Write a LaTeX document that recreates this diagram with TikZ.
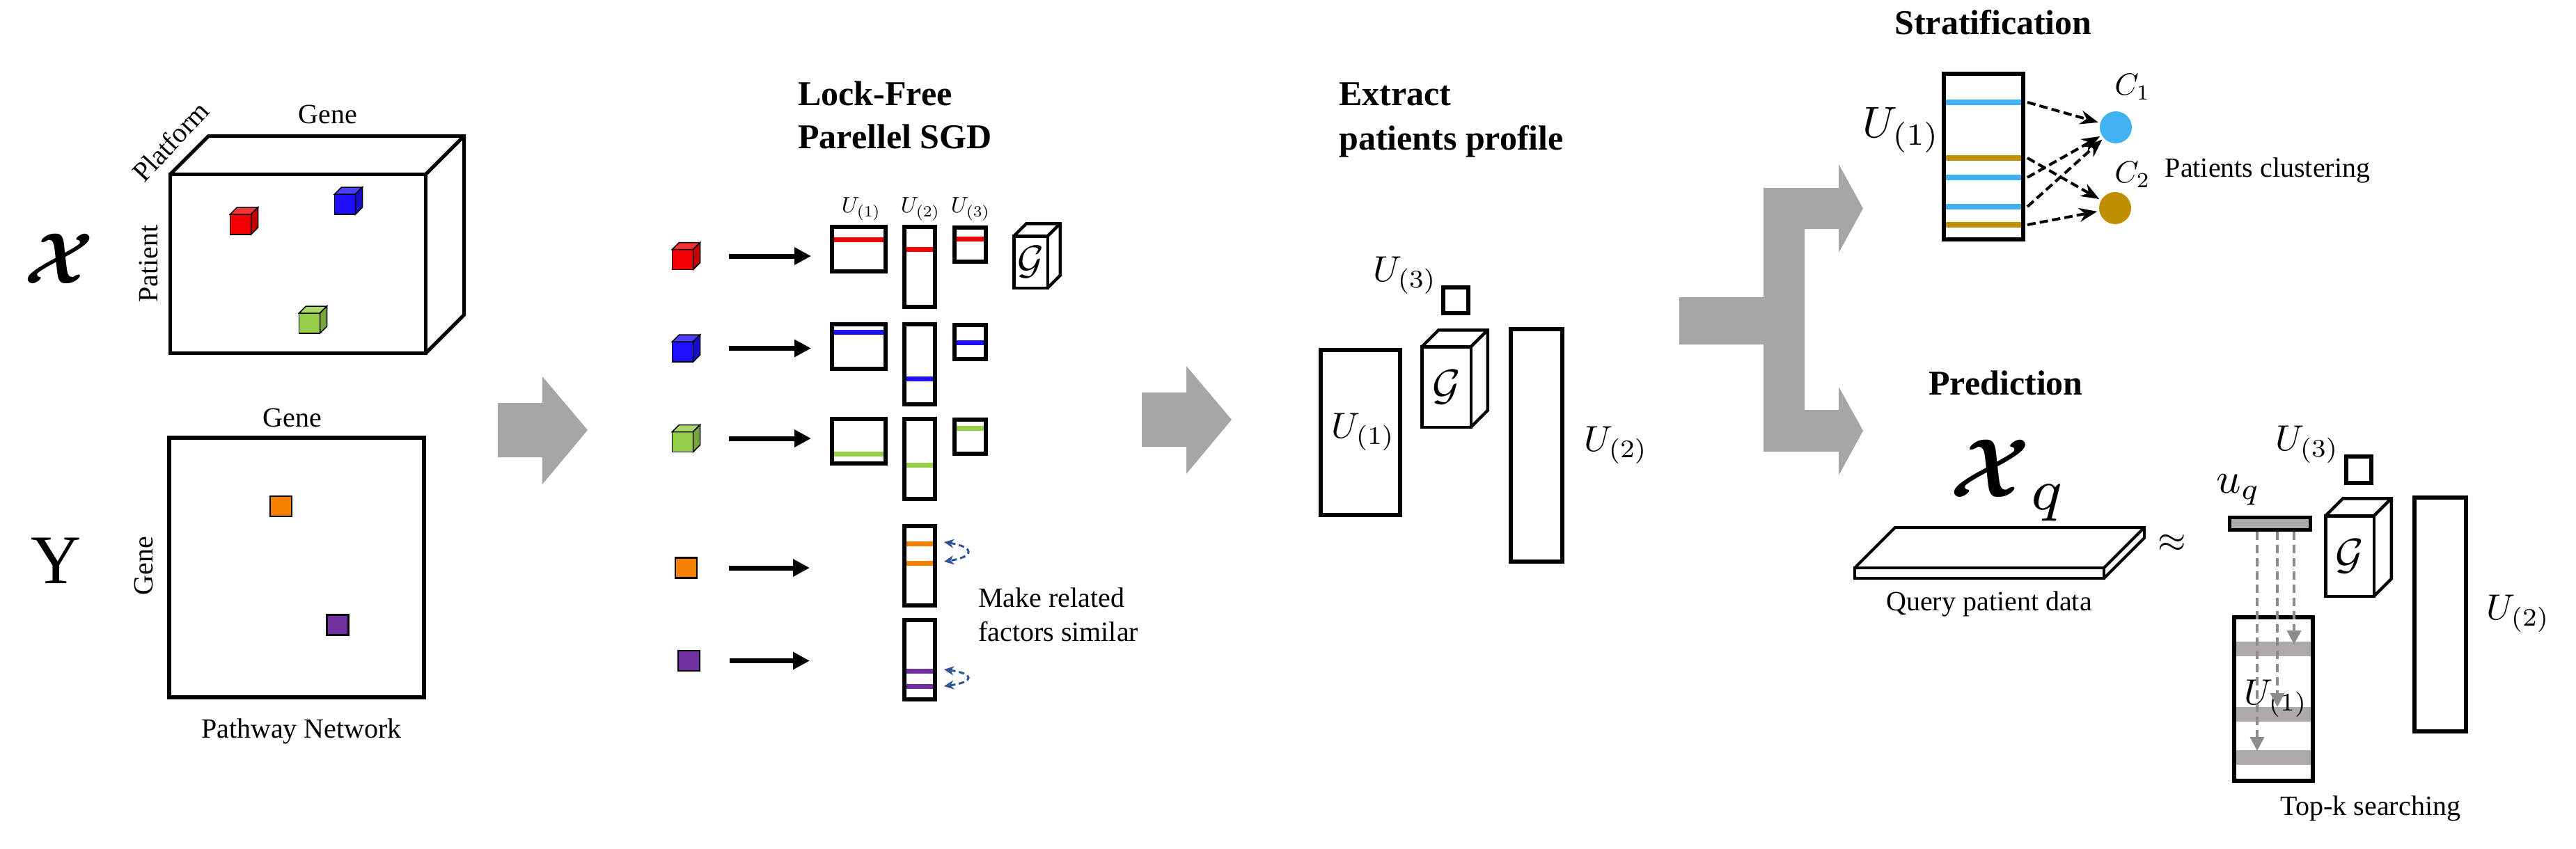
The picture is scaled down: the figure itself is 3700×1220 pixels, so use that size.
\documentclass[tikz,border=0pt]{standalone}
\usepackage{amsmath}
\usepackage{fontspec}
\usepackage{bm}
\setmainfont{Liberation Serif}
\usepackage{tikz}
\usetikzlibrary{arrows.meta}

\definecolor{cred}{RGB}{245,0,0}
\definecolor{cblue}{RGB}{30,16,255}
\definecolor{cgreen}{RGB}{150,208,72}
\definecolor{corange}{RGB}{245,128,0}
\definecolor{cpurple}{RGB}{112,48,160}
\definecolor{sblue}{RGB}{64,178,242}
\definecolor{sgold}{RGB}{191,143,0}
\definecolor{arrowgray}{RGB}{166,166,166}
\definecolor{bandgray}{RGB}{174,170,170}
\definecolor{dblue}{RGB}{47,85,151}

\begin{document}
\begin{tikzpicture}[x=1pt,y=-1pt,
    txt/.style={font=\fontsize{40}{49}\selectfont,inner sep=0pt},
    ttl/.style={font=\bfseries\fontsize{50}{61}\selectfont,inner sep=0pt},
    big/.style={font=\fontsize{#1}{#1}\selectfont,inner sep=0pt},
    lbl/.style={scale=#1/10,inner sep=0pt},
    fbox/.style={draw,line width=6pt,fill=white,inner sep=0pt},
    cubefront/.style={draw,line width=4.5pt,fill=white,inner sep=0pt,outer sep=0pt},
    minicube/.style={draw,line width=1.5pt,inner sep=0pt,outer sep=0pt,
                     minimum width=30pt,minimum height=29pt},
    minisq/.style={draw,line width=2.5pt,inner sep=0pt,minimum width=31pt,minimum height=29pt},
    fatarrow/.style={line width=7pt,-{Triangle[length=24pt,width=24pt]}},
    clusterarrow/.style={line width=4pt,dash pattern=on 12pt off 6pt,shorten >=3pt,
                         -{Stealth[length=26pt,width=20pt]}},
    searcharrow/.style={line width=4pt,draw=black!45,dash pattern=on 12pt off 7pt,
                        -{Triangle[length=20pt,width=20pt]}},
    simarrow/.style={line width=3pt,draw=dblue,dash pattern=on 8pt off 5pt,
                     {Stealth[length=14pt,width=13pt]}-{Stealth[length=14pt,width=13pt]}},
    bigarrow/.style={fill=arrowgray}]

  \useasboundingbox (0,0) rectangle (3700,1220);
  \fill[white] (0,0) rectangle (3700,1220);

  % input tensor X and pathway network Y
  \node[lbl=104] (xsym) at (85,372) {$\boldsymbol{\mathcal{X}}$};
  \node[cubefront,line width=5pt,minimum width=367pt,minimum height=257pt] (tensor) at (428,379) {};
  \node[txt] (tgene) at (471,164) {Gene};
  \node[txt,rotate=47] (tplat) at (245,203) {Platform};
  \node[txt,rotate=90] (tpat) at (213,379) {Patient};
  \node[minicube,fill=cred] (xr) at (345.5,322.5) {};
  \node[minicube,fill=cblue] (xb) at (495.5,293.5) {};
  \node[minicube,fill=cgreen] (xg) at (444.5,464.5) {};

  \node[big=100] (ysym) at (81,806) {Y};
  \node[fbox,minimum width=366pt,minimum height=373pt] (net) at (426,815.5) {};
  \node[txt] (ngene) at (420,600) {Gene};
  \node[txt,rotate=90] (ngenel) at (206,813) {Gene};
  \node[txt] (nname) at (433,1051) {Pathway Network};
  \node[minisq,fill=corange] (yo) at (403.5,727.5) {};
  \node[minisq,fill=cpurple] (yp) at (485,898) {};

  % big gray arrows
  \foreach \x/\y in {715/618,1640/603}
    \fill[bigarrow] (\x,\y) ++(0,-39) -- ++(64,0) -- ++(0,-38) -- ++(65,77)
      -- ++(-65,78) -- ++(0,-39) -- ++(-64,0) -- cycle;

  % lock-free parallel SGD
  \node[ttl,anchor=base west] (sgdt1) at (1146,152) {Lock-Free};
  \node[ttl,anchor=base west] (sgdt2) at (1146,213) {Parellel SGD};
  \node[lbl=32] (sgdu1) at (1237,300) {$U_{(1)}$};
  \node[lbl=32] (sgdu2) at (1322,300) {$U_{(2)}$};
  \node[lbl=32] (sgdu3) at (1394,300) {$U_{(3)}$};
  \foreach \rw/\ty/\cy/\cl/\la/\lb/\lc in {1/323/373/cred/21/35/20,
      2/463/505.5/cblue/14/81/29,3/599/635/cgreen/53/69/16}{
    \node[minicube,fill=\cl] (obs\rw) at (980.5,\cy) {};
    \node[fbox,minimum width=77pt,minimum height=64pt] (fa\rw) at (1233.5,{\ty+35}) {};
    \node[fbox,minimum width=44pt,minimum height=115pt] (fb\rw) at (1321,{\ty+60.5}) {};
    \node[fbox,minimum width=45pt,minimum height=49pt] (fc\rw) at (1393.5,{\ty+28}) {};
    \draw[\cl,line width=7pt] ([shift={(6,\la)}]fa\rw.north west) -- ([shift={(-6,\la)}]fa\rw.north east);
    \draw[\cl,line width=7pt] ([shift={(6,\lb)}]fb\rw.north west) -- ([shift={(-6,\lb)}]fb\rw.north east);
    \draw[\cl,line width=7pt] ([shift={(6,\lc)}]fc\rw.north west) -- ([shift={(-6,\lc)}]fc\rw.north east);
    \coordinate (from\rw) at ([yshift=5pt]obs\rw.east);
    \draw[fatarrow,shorten <=51pt,shorten >=27pt] (from\rw) -- (from\rw -| fa\rw.west);
  }
  \node[cubefront,minimum width=48.5pt,minimum height=74.5pt] (core1) at (1480.5,376.5) {};
  \node[lbl=58] (core1l) at (core1) {$\mathcal{G}$};

  \node[minisq,fill=corange] (obs4) at (985.5,816) {};
  \node[minisq,fill=cpurple] (obs5) at (989.5,949.5) {};
  \node[fbox,minimum width=44pt,minimum height=114pt] (fb4) at (1321,813) {};
  \node[fbox,minimum width=44pt,minimum height=114pt] (fb5) at (1321,948) {};
  \foreach \nm/\cl/\la/\lb in {fb4/corange/28/56,fb5/cpurple/76/98}{
    \draw[\cl,line width=7pt] ([shift={(6,\la)}]\nm.north west) -- ([shift={(-6,\la)}]\nm.north east);
    \draw[\cl,line width=7pt] ([shift={(6,\lb)}]\nm.north west) -- ([shift={(-6,\lb)}]\nm.north east);
  }
  \draw[fatarrow,shorten <=45pt,shorten >=133pt] (obs4) -- (obs4 -| fb4.west);
  \draw[fatarrow,shorten <=42pt,shorten >=133pt] (obs5) -- (obs5 -| fb5.west);
  \coordinate (o1) at (1356,779);
  \coordinate (o2) at (1356,807);
  \coordinate (p1) at (1356,962);
  \coordinate (p2) at (1356,986);
  \draw[simarrow] (o1) .. controls (1400,786) and (1400,800) .. (o2);
  \draw[simarrow] (p1) .. controls (1400,968) and (1400,980) .. (p2);
  \node[txt,align=left,anchor=west] (simtxt) at (1405,883) {Make related\\factors similar};

  % extracted factors
  \node[ttl,anchor=base west] (ext1) at (1923,152) {Extract};
  \node[ttl,anchor=base west] (ext2) at (1923,215) {patients profile};
  \node[fbox,minimum width=114pt,minimum height=237pt] (pu1) at (1954,621.5) {};
  \node[fbox,minimum width=74pt,minimum height=334pt] (pu2) at (2207,640) {};
  \node[fbox,minimum width=36pt,minimum height=37pt] (pu3) at (2091,431.5) {};
  \node[cubefront,minimum width=70.5pt,minimum height=115.5pt] (core2) at (2077.5,556) {};
  \node[lbl=62] (core2l) at (core2) {$\mathcal{G}$};
  \node[lbl=52] (pu1l) at (1958,621) {$U_{(1)}$};
  \node[lbl=52] (pu2l) at (2321,640) {$U_{(2)}$};
  \node[lbl=52] (pu3l) at (2018,396) {$U_{(3)}$};

  % fork arrow
  \fill[bigarrow] (2412,427) -- (2533,427) |- (2641,270) -- (2641,236) -- (2676,299.5)
    -- (2641,363) -- (2641,329) -| (2592,589) -- (2641,589) -- (2641,556) -- (2676,619)
    -- (2641,683) -- (2641,649) -| (2533,495) -- (2412,495) -- cycle;

  % stratification
  \node[ttl,anchor=base] (strt) at (2863,50) {Stratification};
  \node[fbox,minimum width=114pt,minimum height=238pt] (su1) at (2849,225) {};
  \foreach \rw/\y/\cl in {1/147/sblue,2/227/sgold,3/255/sblue,4/297/sblue,5/323/sgold}{
    \draw[\cl,line width=8pt] (2795,\y) -- (2903,\y);
    \coordinate (row\rw) at (2912,\y);
  }
  \node[circle,fill=sblue,minimum size=46pt,inner sep=0pt] (cl1) at (3039,183) {};
  \node[circle,fill=sgold,minimum size=46pt,inner sep=0pt] (cl2) at (3038,299) {};
  \path[clusterarrow] (row1) edge (cl1)
                      (row2) edge (cl2)
                      (row3) edge (cl1)
                      (row4) edge (cl1)
                      (row5) edge (cl2);
  \node[lbl=63] (su1l) at (2731,187) {$U_{(1)}$};
  \node[lbl=44] (cl1l) at (3063,125) {$C_1$};
  \node[lbl=44] (cl2l) at (3063,251) {$C_2$};
  \node[txt] (clus) at (3257,245) {Patients clustering};

  % prediction
  \node[ttl,anchor=base] (predt) at (2881,567) {Prediction};
  \node[lbl=120] (xq) at (2885,690) {$\boldsymbol{\mathcal{X}}_q$};
  \node[cubefront,line width=4pt,minimum width=358pt,minimum height=15pt] (slab) at (2843,823.5) {};
  \node[txt] (qtxt) at (2857,868) {Query patient data};
  \node[lbl=52] (approx) at (3120,781) {$\approx$};
  \node[fbox,line width=5pt,fill=bandgray,minimum width=116pt,minimum height=18pt] (uq) at (3260.5,752.5) {};
  \node[lbl=62] (uql) at (3215,704) {$u_q$};
  \node[fbox,minimum width=36pt,minimum height=38pt] (qu3) at (3388,675) {};
  \node[lbl=52] (qu3l) at (3314,639) {$U_{(3)}$};
  \node[cubefront,minimum width=69.5pt,minimum height=115.5pt] (core3) at (3375,799) {};
  \node[lbl=62] (core3l) at (core3) {$\mathcal{G}$};
  \node[fbox,minimum width=74pt,minimum height=336pt] (qu2) at (3505,883) {};
  \node[lbl=52] (qu2l) at (3617,882) {$U_{(2)}$};
  \node[fbox,minimum width=113pt,minimum height=235pt] (qu1) at (3265.5,1004.5) {};
  \foreach \yb in {37.5,131.5,193.5}
    \fill[bandgray] ([shift={(6,\yb)}]qu1.north west) rectangle ([shift={(-6,\yb+21)}]qu1.north east);
  \node[lbl=52] (qu1l) at (3269,1004) {$U_{(1)}$};
  \coordinate (hit1) at (3295,926);
  \coordinate (hit2) at (3271,1016);
  \coordinate (hit3) at (3242,1079);
  \foreach \h in {1,2,3}
    \draw[searcharrow] (uq.south -| hit\h) -- (hit\h);
  \node[txt] (topk) at (3405,1162) {Top-k searching};

  % depth faces of the cuboids
  \foreach \nm/\dep/\lw in {tensor/55/5pt,core1/18/4.5pt,core2/24/4.5pt,core3/25/4.5pt,slab/58/4pt}
    \draw[line width=\lw] (\nm.north west) -- ++(\dep,-\dep) -- ([shift={(\dep,-\dep)}]\nm.north east)
      -- ([shift={(\dep,-\dep)}]\nm.south east) -- (\nm.south east)
      (\nm.north east) -- ++(\dep,-\dep);
  \foreach \nm/\cl in {xr/cred,xb/cblue,xg/cgreen,obs1/cred,obs2/cblue,obs3/cgreen}{
    \filldraw[fill=\cl!80!white,line width=1.5pt] (\nm.north west) -- ++(10,-10)
      -- ([shift={(10,-10)}]\nm.north east) -- (\nm.north east) -- cycle;
    \filldraw[fill=\cl!80!black,line width=1.5pt] (\nm.north east) -- ++(10,-10)
      -- ([shift={(10,-10)}]\nm.south east) -- (\nm.south east) -- cycle;
  }
\end{tikzpicture}
\end{document}
